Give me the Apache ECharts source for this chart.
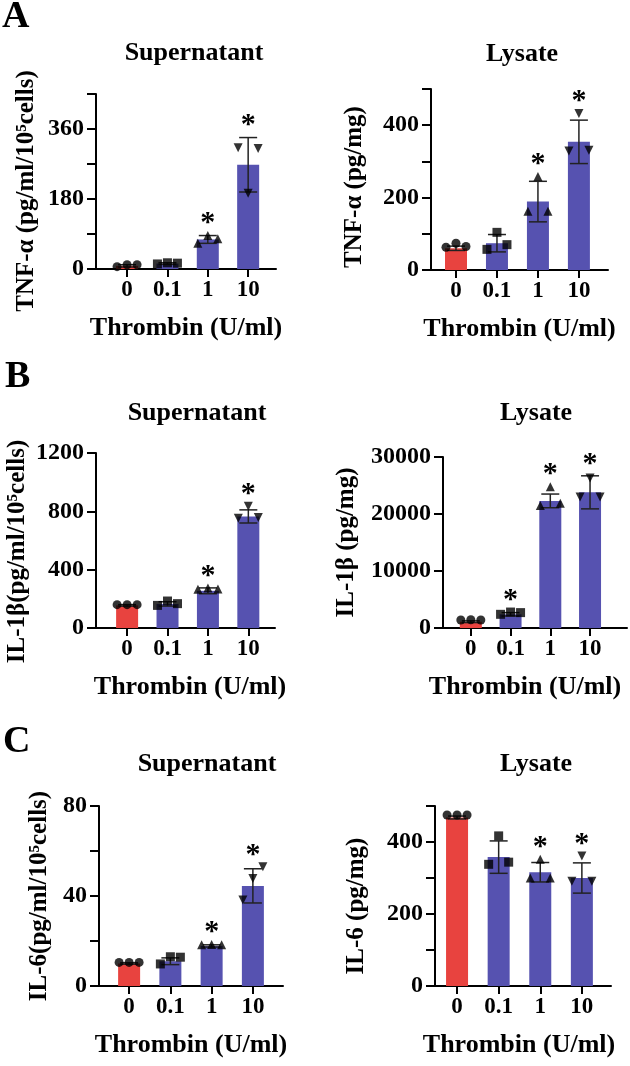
<!DOCTYPE html>
<html><head><meta charset="utf-8">
<script src="https://cdn.jsdelivr.net/npm/echarts@6/dist/echarts.min.js"></script>
<style>html,body{margin:0;padding:0;background:#fff}#c{width:630px;height:1066px}</style>
</head><body><div id="c"></div>
<script>
// ---------- data ----------
const categories = ['0', '0.1', '1', '10'];
const xAxisTitle = 'Thrombin (U/ml)';
const panelLetters = ['A', 'B', 'C'];

const tnfSupMean = [8, 14, 76, 268];
const tnfSupSD = [3, 2, 10, 70];
const tnfSupPts = [[6, 11, 11], [13, 16, 15], [66, 86, 78], [312, 195, 310]];
const tnfSupStar = [0, 0, 1, 1];

const tnfLysMean = [60, 74, 189, 354];
const tnfLysSD = [6, 24, 56, 60];
const tnfLysPts = [[63, 74, 65], [57, 104, 70], [162, 258, 162], [329, 432, 331]];
const tnfLysStar = [0, 0, 1, 1];

const il1SupMean = [155, 165, 255, 765];
const il1SupSD = [5, 15, 20, 45];
const il1SupPts = [[160, 160, 160], [155, 185, 167], [265, 275, 268], [752, 835, 758]];
const il1SupStar = [0, 0, 1, 1];

const il1LysMean = [1100, 2400, 22300, 23800];
const il1LysSD = [150, 300, 1200, 2900];
const il1LysPts = [[1400, 1450, 1400], [2400, 2800, 2700], [21500, 24800, 21900], [23000, 26300, 23000]];
const il1LysStar = [0, 1, 1, 1];

const il6SupMean = [10, 11, 17.8, 44.5];
const il6SupSD = [0.3, 1.5, 0.5, 7.6];
const il6SupPts = [[10.5, 10.5, 10.5], [9.8, 13, 12.8], [18.3, 18.5, 18.3], [38.2, 47.8, 53]];
const il6SupStar = [0, 0, 1, 1];

const il6LysMean = [468, 358, 316, 300];
const il6LysSD = [4, 45, 27, 42];
const il6LysPts = [[475, 475, 475], [338, 417, 344], [300, 352, 300], [291, 361, 291]];
const il6LysStar = [0, 0, 1, 1];

const panelTitles = ['Supernatant', 'Lysate', 'Supernatant', 'Lysate', 'Supernatant', 'Lysate'];
const yTitles = ['TNF-α (pg/ml/10⁵cells)', 'TNF-α (pg/mg)', 'IL-1β(pg/ml/10⁵cells)', 'IL-1β (pg/mg)', 'IL-6(pg/ml/10⁵cells)', 'IL-6 (pg/mg)'];
const yMax = [450, 500, 1200, 30000, 80, 500];
const yInterval = [90, 100, 400, 10000, 20, 100];
const yLabelStep = [180, 200, 400, 10000, 40, 200];

// ---------- styling / layout ----------
const RED = '#E8433F', BLUE = '#5652B0';
const FONT = '"Liberation Serif", "Times New Roman", serif';
const markerSymbols = ['circle', 'rect', 'triangle', 'triangle'];
const markerRotate = [0, 0, 0, 180];
const jitter = [-10, 0, 10];

const data = [
  [tnfSupMean, tnfSupSD, tnfSupPts, tnfSupStar],
  [tnfLysMean, tnfLysSD, tnfLysPts, tnfLysStar],
  [il1SupMean, il1SupSD, il1SupPts, il1SupStar],
  [il1LysMean, il1LysSD, il1LysPts, il1LysStar],
  [il6SupMean, il6SupSD, il6SupPts, il6SupStar],
  [il6LysMean, il6LysSD, il6LysPts, il6LysStar]
];

const layout = [
  {left: 96, top: 94, width: 180, height: 175, xMin: -0.77, xMax: 3.69, yGap: 57, yPad: [0, 19, 0, 0], xPad: [0, 0, 0, 0], tx: 194, ty: 40},
  {left: 431, top: 89, width: 177, height: 181, xMin: -0.61, xMax: 3.71, yGap: 64, yPad: [0, 15, 0, 0], xPad: [0, 0, 0, 0], tx: 522, ty: 41},
  {left: 96, top: 453, width: 179, height: 175, xMin: -0.77, xMax: 3.66, yGap: 66, yPad: [0, 22, 0, 0], xPad: [0, 0, 0, 9], tx: 197, ty: 400},
  {left: 443, top: 457, width: 184, height: 171, xMin: -0.70, xMax: 3.93, yGap: 84, yPad: [0, 0, 0, 0], xPad: [0, 20, 0, 0], tx: 536, ty: 400},
  {left: 99, top: 806, width: 184, height: 180, xMin: -0.73, xMax: 3.73, yGap: 47, yPad: [0, 0, 0, 0], xPad: [0, 0, 0, 0], tx: 207, ty: 751},
  {left: 435, top: 806, width: 176, height: 180, xMin: -0.53, xMax: 3.70, yGap: 66, yPad: [0, 20, 0, 0], xPad: [0, 8, 0, 0], tx: 536, ty: 751}
];

const axisLineStyle = {color: '#000', width: 2};
const grids = [], xAxes = [], yAxes = [], series = [], titles = [];

layout.forEach((L, i) => {
  const [mean, sd, pts, star] = data[i];
  grids.push({left: L.left, top: L.top, width: L.width, height: L.height});
  xAxes.push({
    type: 'value', gridIndex: i, min: L.xMin, max: L.xMax,
    splitLine: {show: false},
    axisLine: {show: true, onZero: false, lineStyle: axisLineStyle},
    axisTick: {show: true, customValues: [0, 1, 2, 3], length: 8, lineStyle: axisLineStyle},
    axisLabel: {customValues: [0, 1, 2, 3], formatter: v => categories[Math.round(v)],
      color: '#000', fontFamily: FONT, fontWeight: 'bold', fontSize: 23, margin: 10},
    name: xAxisTitle, nameLocation: 'middle', nameGap: 46,
    nameTextStyle: {color: '#000', fontFamily: FONT, fontWeight: 'bold', fontSize: 26, padding: L.xPad}
  });
  yAxes.push({
    type: 'value', gridIndex: i, min: 0, max: yMax[i], interval: yInterval[i],
    splitLine: {show: false},
    axisLine: {show: true, onZero: false, lineStyle: axisLineStyle},
    axisTick: {show: true, length: 9, lineStyle: axisLineStyle},
    axisLabel: {formatter: v => (v % yLabelStep[i] === 0 ? String(v) : ''),
      color: '#000', fontFamily: FONT, fontWeight: 'bold', fontSize: 24, margin: 12},
    name: yTitles[i], nameLocation: 'middle', nameGap: L.yGap,
    nameTextStyle: {color: '#000', fontFamily: FONT, fontWeight: 'bold', fontSize: 25, padding: L.yPad}
  });
  titles.push({text: panelTitles[i], left: L.tx, top: L.ty, textAlign: 'center', padding: 0,
    textStyle: {color: '#000', fontFamily: FONT, fontWeight: 'bold', fontSize: 26}});

  series.push({
    type: 'bar', xAxisIndex: i, yAxisIndex: i, barWidth: 22, z: 2,
    data: mean.map((m, k) => ({value: [k, m], itemStyle: {color: k === 0 ? RED : BLUE}}))
  });
  series.push({
    type: 'custom', xAxisIndex: i, yAxisIndex: i, z: 3,
    data: mean.map((m, k) => [k, m, sd[k]]),
    renderItem: (params, api) => {
      const k = params.dataIndex;
      const x = api.value(0), m = api.value(1), s = api.value(2);
      const top = api.coord([x, m + s]), bot = api.coord([x, m - s]);
      const cx = top[0];
      const st = {stroke: '#222', lineWidth: 1.5};
      const children = [
        {type: 'line', shape: {x1: cx, y1: top[1], x2: cx, y2: bot[1]}, style: st},
        {type: 'line', shape: {x1: cx - 9, y1: top[1], x2: cx + 9, y2: top[1]}, style: st},
        {type: 'line', shape: {x1: cx - 9, y1: bot[1], x2: cx + 9, y2: bot[1]}, style: st}
      ];
      if (star[k]) {
        const yTop = Math.min(top[1], ...pts[k].map(v => api.coord([x, v])[1]));
        children.push({type: 'text', style: {text: '*', x: cx, y: yTop - 12, align: 'center',
          verticalAlign: 'middle', font: 'bold 30px ' + FONT, fill: '#000'}});
      }
      return {type: 'group', children};
    }
  });
  const sdata = [];
  pts.forEach((arr, k) => arr.forEach((v, j) => sdata.push({
    value: [k, v], symbol: markerSymbols[k], symbolRotate: markerRotate[k], symbolOffset: [jitter[j], 0]
  })));
  series.push({
    type: 'scatter', xAxisIndex: i, yAxisIndex: i, z: 4, symbolSize: 9,
    itemStyle: {color: '#000'}, data: sdata
  });
});

const letterTops = [-2, 358, 723];
const letterLefts = [2, 5, 3];
panelLetters.forEach((t, r) => titles.push({text: t, left: letterLefts[r], top: letterTops[r], padding: 0,
  textStyle: {color: '#000', fontFamily: FONT, fontWeight: 'bold', fontSize: 38}}));

const chart = echarts.init(document.getElementById('c'), null, {renderer: 'canvas'});
chart.setOption({
  animation: false, backgroundColor: '#fff',
  title: titles, grid: grids, xAxis: xAxes, yAxis: yAxes, series
});
</script></body></html>
